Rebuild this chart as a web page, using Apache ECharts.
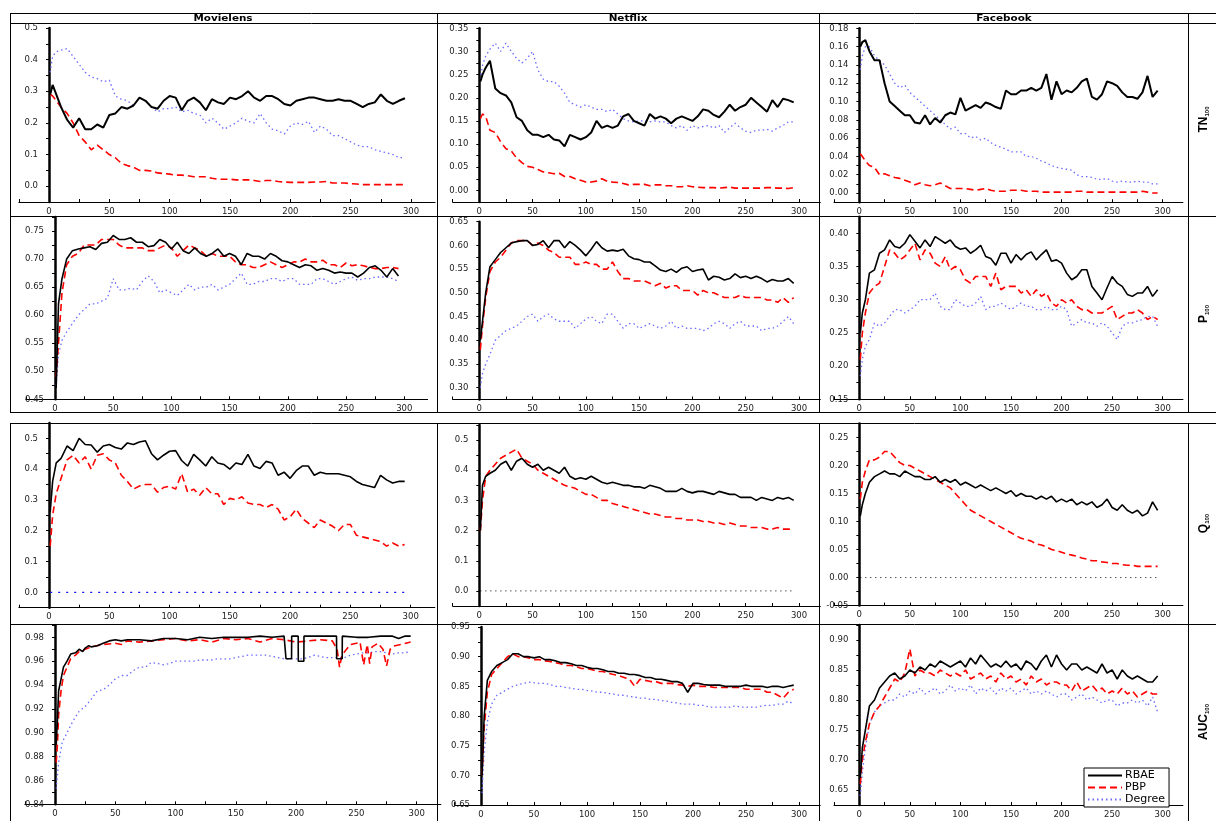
<!DOCTYPE html>
<html><head><meta charset="utf-8">
<script src="https://cdn.jsdelivr.net/npm/echarts@6/dist/echarts.min.js"></script>
<style>html,body{margin:0;padding:0;background:#fff}#c{width:1216px;height:821px}</style>
</head><body><div id="c"></div>
<script>
// ---------------- DATA ----------------
const X = [1,3,6,10,15,20,25,30,35,40,45,50,55,60,65,70,75,80,85,90,95,100,105,110,115,120,125,130,135,140,145,150,155,160,165,170,175,180,185,190,195,200,205,210,215,220,225,230,235,240,245,250,255,260,265,270,275,280,285,290,295];
const datasetNames = ['Movielens','Netflix','Facebook'];
const metricNames = [['TN','100'],['P','100'],['Q','100'],['AUC','100']];
const seriesNames = ['RBAE','PBP','Degree'];

// TN100
const mlTnRbae = [0.29,0.32,0.29,0.25,
 0.21,0.185,0.215,0.18,0.18,0.195,0.185,0.225,0.23,0.25,
 0.245,0.255,0.28,0.27,0.25,0.245,0.27,0.285,0.28,0.24,
 0.27,0.28,0.265,0.24,0.275,0.265,0.26,0.28,0.275,0.285,
 0.30,0.28,0.27,0.285,0.285,0.275,0.26,0.255,0.27,0.275,
 0.28,0.28,0.275,0.27,0.27,0.275,0.27,0.27,0.26,0.25,
 0.26,0.265,0.29,0.27,0.26,0.27,0.278];
const mlTnPbp = [0.29,0.285,0.27,0.25,
 0.23,0.2,0.16,0.14,0.115,0.13,0.115,0.1,0.09,0.072,
 0.065,0.06,0.05,0.05,0.048,0.042,0.04,0.038,0.035,0.035,
 0.033,0.03,0.03,0.03,0.025,0.022,0.022,0.022,0.02,0.02,
 0.02,0.018,0.015,0.018,0.018,0.015,0.013,0.012,0.012,0.012,
 0.012,0.013,0.013,0.015,0.01,0.01,0.01,0.008,0.007,0.005,
 0.005,0.005,0.005,0.005,0.005,0.005,0.005];
const mlTnDeg = [0.36,0.41,0.425,0.43,
 0.435,0.41,0.385,0.36,0.345,0.34,0.33,0.335,0.285,0.275,
 0.27,0.255,0.28,0.27,0.25,0.235,0.245,0.245,0.25,0.235,
 0.24,0.23,0.225,0.2,0.215,0.2,0.18,0.19,0.2,0.215,
 0.205,0.2,0.23,0.2,0.18,0.175,0.165,0.19,0.2,0.195,
 0.205,0.17,0.19,0.18,0.16,0.16,0.15,0.14,0.13,0.125,
 0.125,0.115,0.11,0.105,0.1,0.09,0.09];
const nfTnRbae = [0.235,0.25,0.265,0.28,
 0.22,0.21,0.205,0.19,0.158,0.15,0.13,0.12,0.12,0.115,
 0.12,0.11,0.108,0.095,0.12,0.115,0.11,0.115,0.125,0.15,
 0.135,0.14,0.135,0.14,0.16,0.165,0.15,0.145,0.14,0.165,
 0.155,0.16,0.155,0.145,0.155,0.16,0.155,0.15,0.16,0.175,
 0.172,0.163,0.158,0.17,0.185,0.172,0.18,0.185,0.2,0.19,
 0.18,0.17,0.195,0.18,0.198,0.195,0.19];
const nfTnPbp = [0.155,0.165,0.16,0.13,
 0.125,0.105,0.09,0.085,0.07,0.06,0.052,0.05,0.045,0.04,
 0.038,0.036,0.037,0.03,0.03,0.025,0.022,0.018,0.018,0.02,
 0.025,0.02,0.018,0.017,0.015,0.012,0.013,0.013,0.013,0.01,
 0.012,0.012,0.01,0.01,0.008,0.008,0.01,0.008,0.007,0.006,
 0.006,0.006,0.005,0.006,0.007,0.005,0.005,0.005,0.005,0.005,
 0.005,0.006,0.006,0.005,0.005,0.004,0.006];
const nfTnDeg = [0.24,0.27,0.29,0.305,
 0.318,0.3,0.318,0.3,0.285,0.275,0.285,0.3,0.26,0.24,
 0.235,0.235,0.225,0.21,0.19,0.185,0.18,0.185,0.18,0.175,
 0.175,0.17,0.175,0.165,0.155,0.15,0.148,0.15,0.15,0.148,
 0.15,0.148,0.148,0.14,0.135,0.14,0.13,0.14,0.135,0.138,
 0.14,0.135,0.14,0.125,0.135,0.145,0.135,0.128,0.125,0.13,
 0.13,0.132,0.128,0.135,0.14,0.148,0.148];
const fbTnRbae = [0.16,0.165,0.167,0.155,
 0.145,0.145,0.12,0.1,0.095,0.09,0.085,0.085,0.077,0.076,
 0.085,0.075,0.082,0.077,0.085,0.088,0.086,0.104,0.09,0.093,
 0.096,0.093,0.099,0.097,0.094,0.092,0.112,0.108,0.108,0.112,
 0.112,0.115,0.112,0.115,0.13,0.102,0.122,0.108,0.112,0.11,
 0.115,0.122,0.125,0.105,0.102,0.108,0.122,0.12,0.117,0.11,
 0.105,0.105,0.103,0.11,0.128,0.105,0.112];
const fbTnPbp = [0.043,0.04,0.035,0.03,
 0.028,0.02,0.021,0.019,0.017,0.016,0.014,0.012,0.009,0.011,
 0.009,0.008,0.009,0.011,0.008,0.005,0.005,0.005,0.005,0.004,
 0.003,0.004,0.005,0.003,0.002,0.002,0.002,0.003,0.003,0.003,
 0.002,0.002,0.002,0.001,0.001,0.001,0.001,0.001,0.001,0.001,
 0.002,0.002,0.001,0.001,0.001,0.001,0.001,0.001,0.001,0.001,
 0.001,0.001,0.001,0.002,0.001,0.0,0.0];
const fbTnDeg = [0.135,0.15,0.16,0.16,
 0.15,0.145,0.14,0.13,0.12,0.115,0.118,0.11,0.105,0.1,
 0.095,0.09,0.085,0.08,0.075,0.07,0.072,0.065,0.065,0.06,
 0.062,0.058,0.06,0.055,0.052,0.05,0.048,0.045,0.045,0.045,
 0.04,0.04,0.038,0.035,0.033,0.03,0.028,0.027,0.026,0.025,
 0.02,0.018,0.018,0.017,0.015,0.015,0.016,0.013,0.012,0.013,
 0.012,0.012,0.013,0.012,0.012,0.01,0.01];

// P100
const mlPRbae = [0.47,0.62,0.665,0.70,
 0.715,0.718,0.72,0.722,0.717,0.728,0.73,0.742,0.735,0.735,
 0.738,0.73,0.73,0.722,0.724,0.735,0.73,0.718,0.73,0.715,
 0.71,0.72,0.71,0.705,0.71,0.718,0.705,0.71,0.705,0.69,
 0.71,0.705,0.705,0.7,0.71,0.705,0.697,0.695,0.69,0.685,
 0.69,0.688,0.68,0.683,0.68,0.675,0.677,0.675,0.675,0.668,
 0.675,0.685,0.688,0.68,0.668,0.683,0.67];
const mlPPbp = [0.49,0.55,0.64,0.69,
 0.705,0.71,0.725,0.725,0.725,0.735,0.735,0.735,0.725,0.72,
 0.72,0.72,0.72,0.715,0.715,0.72,0.725,0.72,0.705,0.715,
 0.725,0.72,0.715,0.705,0.71,0.705,0.705,0.705,0.695,0.69,
 0.69,0.685,0.685,0.69,0.695,0.69,0.685,0.69,0.695,0.695,
 0.70,0.695,0.695,0.698,0.69,0.69,0.685,0.693,0.688,0.69,
 0.688,0.685,0.683,0.683,0.685,0.685,0.683];
const mlPDeg = [0.475,0.53,0.555,0.57,
 0.585,0.6,0.61,0.62,0.62,0.625,0.63,0.665,0.645,0.645,
 0.648,0.645,0.66,0.67,0.66,0.64,0.645,0.64,0.635,0.645,
 0.655,0.645,0.65,0.65,0.655,0.645,0.65,0.655,0.665,0.675,
 0.655,0.655,0.66,0.66,0.665,0.665,0.66,0.665,0.665,0.655,
 0.655,0.655,0.665,0.665,0.66,0.655,0.66,0.665,0.668,0.662,
 0.665,0.665,0.668,0.668,0.668,0.665,0.66];
const nfPRbae = [0.40,0.44,0.50,0.555,
 0.57,0.585,0.595,0.605,0.608,0.61,0.61,0.60,0.602,0.61,
 0.595,0.61,0.61,0.595,0.608,0.60,0.59,0.578,0.592,0.608,
 0.595,0.588,0.59,0.588,0.592,0.578,0.572,0.57,0.565,0.565,
 0.557,0.548,0.545,0.55,0.543,0.552,0.555,0.545,0.548,0.55,
 0.527,0.535,0.533,0.527,0.53,0.54,0.532,0.535,0.53,0.535,
 0.53,0.523,0.528,0.525,0.525,0.53,0.52];
const nfPPbp = [0.38,0.43,0.49,0.545,
 0.565,0.575,0.59,0.605,0.61,0.61,0.61,0.60,0.605,0.60,
 0.59,0.585,0.575,0.575,0.575,0.56,0.56,0.565,0.56,0.56,
 0.55,0.55,0.565,0.545,0.53,0.53,0.525,0.525,0.525,0.52,
 0.515,0.52,0.51,0.515,0.515,0.505,0.505,0.505,0.495,0.505,
 0.5,0.5,0.495,0.49,0.49,0.49,0.495,0.49,0.49,0.49,
 0.49,0.485,0.485,0.48,0.49,0.48,0.49];
const nfPDeg = [0.30,0.33,0.35,0.37,
 0.40,0.41,0.42,0.425,0.43,0.44,0.45,0.455,0.44,0.45,
 0.455,0.445,0.44,0.44,0.44,0.425,0.435,0.445,0.45,0.44,
 0.435,0.455,0.455,0.44,0.425,0.435,0.435,0.425,0.43,0.435,
 0.43,0.425,0.43,0.44,0.425,0.43,0.425,0.425,0.425,0.42,
 0.425,0.435,0.44,0.435,0.425,0.435,0.44,0.43,0.43,0.43,
 0.42,0.425,0.425,0.43,0.44,0.45,0.435];
const fbPRbae = [0.25,0.28,0.30,0.34,
 0.345,0.37,0.375,0.39,0.38,0.378,0.385,0.398,0.388,0.378,
 0.39,0.38,0.395,0.39,0.385,0.39,0.38,0.376,0.378,0.37,
 0.375,0.382,0.365,0.362,0.352,0.37,0.37,0.355,0.368,0.36,
 0.368,0.372,0.36,0.368,0.375,0.358,0.36,0.355,0.34,0.33,
 0.335,0.345,0.345,0.32,0.31,0.30,0.318,0.335,0.325,0.32,
 0.308,0.305,0.31,0.31,0.32,0.305,0.315];
const fbPPbp = [0.21,0.25,0.28,0.31,
 0.32,0.325,0.35,0.375,0.37,0.36,0.365,0.375,0.385,0.36,
 0.375,0.37,0.355,0.35,0.365,0.345,0.35,0.345,0.33,0.325,
 0.335,0.335,0.335,0.32,0.34,0.315,0.32,0.32,0.32,0.31,
 0.315,0.305,0.315,0.305,0.31,0.295,0.29,0.3,0.295,0.30,
 0.29,0.285,0.285,0.28,0.28,0.28,0.285,0.29,0.27,0.275,
 0.28,0.28,0.285,0.28,0.27,0.275,0.27];
const fbPDeg = [0.185,0.21,0.23,0.24,
 0.265,0.26,0.265,0.275,0.285,0.285,0.28,0.285,0.29,0.30,
 0.30,0.30,0.31,0.29,0.285,0.285,0.30,0.295,0.29,0.29,
 0.295,0.305,0.285,0.29,0.29,0.295,0.29,0.285,0.29,0.295,
 0.29,0.29,0.285,0.285,0.29,0.285,0.285,0.29,0.285,0.26,
 0.265,0.27,0.265,0.265,0.26,0.265,0.26,0.25,0.24,0.26,
 0.265,0.265,0.268,0.27,0.275,0.275,0.26];

// Q100
const mlQRbae = [0.26,0.36,0.42,0.435,
 0.475,0.46,0.50,0.48,0.478,0.455,0.475,0.48,0.47,0.465,
 0.485,0.48,0.488,0.492,0.45,0.43,0.445,0.458,0.46,0.428,
 0.41,0.448,0.43,0.41,0.44,0.42,0.415,0.40,0.42,0.415,
 0.448,0.41,0.402,0.425,0.42,0.38,0.39,0.37,0.395,0.41,
 0.41,0.38,0.39,0.385,0.385,0.385,0.38,0.375,0.36,0.35,
 0.345,0.34,0.38,0.365,0.355,0.36,0.36];
const mlQPbp = [0.15,0.25,0.32,0.37,
 0.43,0.445,0.42,0.44,0.40,0.445,0.45,0.43,0.42,0.38,
 0.36,0.335,0.345,0.35,0.35,0.325,0.34,0.345,0.335,0.385,
 0.325,0.335,0.315,0.34,0.32,0.32,0.285,0.305,0.30,0.31,
 0.29,0.285,0.285,0.275,0.285,0.27,0.235,0.245,0.27,0.24,
 0.225,0.21,0.235,0.225,0.215,0.20,0.22,0.22,0.185,0.18,
 0.175,0.17,0.165,0.15,0.16,0.15,0.155];
const qDegX = [1,295];
const mlQDeg = [0,0];
const nfQRbae = [0.20,0.35,0.38,0.39,
 0.40,0.42,0.43,0.40,0.43,0.44,0.42,0.41,0.42,0.40,
 0.41,0.40,0.39,0.41,0.38,0.37,0.375,0.37,0.38,0.37,
 0.36,0.355,0.36,0.355,0.35,0.35,0.345,0.345,0.34,0.35,
 0.345,0.34,0.33,0.33,0.33,0.34,0.33,0.325,0.33,0.33,
 0.325,0.32,0.33,0.325,0.32,0.32,0.31,0.31,0.31,0.30,
 0.31,0.305,0.30,0.31,0.305,0.31,0.30];
const nfQPbp = [0.20,0.30,0.38,0.40,
 0.42,0.44,0.45,0.46,0.47,0.44,0.43,0.42,0.40,0.39,
 0.38,0.37,0.36,0.35,0.345,0.34,0.33,0.32,0.32,0.31,
 0.30,0.30,0.29,0.285,0.28,0.275,0.27,0.265,0.26,0.255,
 0.255,0.25,0.245,0.245,0.24,0.24,0.235,0.235,0.235,0.23,
 0.23,0.225,0.225,0.22,0.225,0.22,0.215,0.215,0.21,0.21,
 0.21,0.205,0.205,0.21,0.205,0.205,0.205];
const nfQDeg = [0,0];
const fbQRbae = [0.11,0.13,0.15,0.17,
 0.18,0.185,0.19,0.185,0.185,0.18,0.19,0.185,0.18,0.18,
 0.175,0.175,0.18,0.17,0.175,0.17,0.175,0.165,0.17,0.165,
 0.16,0.165,0.16,0.155,0.16,0.155,0.15,0.155,0.145,0.15,
 0.145,0.145,0.14,0.145,0.14,0.145,0.135,0.14,0.135,0.14,
 0.13,0.135,0.13,0.135,0.125,0.13,0.14,0.125,0.12,0.13,
 0.12,0.115,0.12,0.11,0.115,0.135,0.12];
const fbQPbp = [0.14,0.17,0.19,0.21,
 0.21,0.215,0.225,0.225,0.215,0.205,0.20,0.20,0.195,0.19,
 0.185,0.18,0.175,0.17,0.165,0.16,0.15,0.14,0.13,0.12,
 0.115,0.11,0.105,0.10,0.095,0.09,0.085,0.08,0.075,0.07,
 0.068,0.065,0.06,0.058,0.055,0.05,0.048,0.045,0.042,0.04,
 0.038,0.035,0.033,0.03,0.03,0.028,0.027,0.025,0.025,0.023,
 0.022,0.022,0.02,0.02,0.02,0.02,0.02];
const fbQDeg = [0,0];

// AUC100
const mlAucRbaeX = [1,2,3,5,7,10,13,17,20,23,25,28,30,35,40,45,50,55,60,70,80,90,100,110,120,130,140,150,160,170,180,190,191.5,191.6,196.2,196.3,201.7,201.8,206.4,206.5,220,233.5,233.6,238.2,238.3,250,260,270,280,285,290,295];
const mlAucRbae = [0.89,0.91,0.935,0.945,0.955,0.96,0.966,0.967,0.97,0.968,0.971,0.973,0.972,0.973,0.975,0.977,0.978,0.977,0.978,0.978,0.977,0.979,0.979,0.978,0.98,0.979,0.98,0.98,0.98,0.981,0.98,0.981,0.981,0.962,0.962,0.981,0.981,0.960,0.960,0.981,0.981,0.981,0.962,0.962,0.981,0.98,0.98,0.981,0.981,0.979,0.981,0.981];
const mlAucPbpX = [1,2,3,5,7,10,13,17,20,25,30,40,50,55,60,70,80,90,100,110,120,130,140,150,160,170,180,190,200,210,220,230,234,236,238,245,250,253,256,259,261,263,268,272,275,278,282,287,291,295];
const mlAucPbp = [0.875,0.89,0.915,0.935,0.948,0.955,0.962,0.965,0.968,0.97,0.972,0.974,0.975,0.974,0.977,0.976,0.977,0.978,0.979,0.977,0.978,0.976,0.979,0.978,0.979,0.976,0.979,0.978,0.976,0.977,0.978,0.977,0.97,0.955,0.965,0.974,0.975,0.976,0.957,0.974,0.958,0.972,0.975,0.97,0.956,0.97,0.973,0.974,0.975,0.976];
const mlAucDeg = [0.853,0.875,0.892,0.90,
 0.91,0.918,0.922,0.928,0.935,0.936,0.94,0.945,0.948,0.948,
 0.952,0.955,0.955,0.959,0.958,0.957,0.958,0.96,0.96,0.96,
 0.96,0.961,0.961,0.961,0.962,0.962,0.962,0.963,0.964,0.965,
 0.965,0.965,0.965,0.964,0.963,0.962,0.962,0.962,0.962,0.963,
 0.965,0.964,0.963,0.963,0.963,0.963,0.965,0.966,0.967,0.967,
 0.968,0.968,0.967,0.966,0.967,0.967,0.968];
const nfAucRbae = [0.70,0.80,0.86,0.875,
 0.885,0.89,0.895,0.905,0.905,0.9,0.9,0.898,0.9,0.895,
 0.895,0.893,0.89,0.89,0.888,0.885,0.885,0.882,0.88,0.88,
 0.878,0.875,0.875,0.872,0.872,0.87,0.87,0.868,0.865,0.865,
 0.862,0.862,0.86,0.858,0.858,0.855,0.84,0.855,0.855,0.853,
 0.852,0.852,0.852,0.85,0.85,0.85,0.85,0.852,0.85,0.85,
 0.85,0.848,0.85,0.85,0.848,0.85,0.852];
const nfAucPbp = [0.70,0.78,0.84,0.87,
 0.88,0.89,0.9,0.905,0.9,0.9,0.898,0.895,0.895,0.893,
 0.892,0.89,0.888,0.885,0.885,0.883,0.88,0.88,0.878,0.875,
 0.875,0.872,0.87,0.868,0.865,0.862,0.85,0.862,0.86,0.858,
 0.858,0.855,0.855,0.855,0.853,0.852,0.85,0.852,0.85,0.85,
 0.85,0.848,0.848,0.848,0.848,0.848,0.848,0.845,0.845,0.845,
 0.845,0.84,0.84,0.835,0.83,0.84,0.845];
const nfAucDeg = [0.67,0.74,0.79,0.82,
 0.835,0.84,0.845,0.85,0.853,0.855,0.857,0.856,0.855,0.855,
 0.853,0.85,0.85,0.848,0.847,0.845,0.845,0.843,0.842,0.84,
 0.84,0.838,0.837,0.835,0.835,0.833,0.832,0.83,0.83,0.828,
 0.828,0.826,0.825,0.823,0.822,0.82,0.82,0.82,0.818,0.818,
 0.815,0.815,0.815,0.815,0.815,0.817,0.815,0.815,0.815,0.815,
 0.817,0.818,0.818,0.82,0.82,0.825,0.82];
const fbAucRbae = [0.67,0.72,0.75,0.79,
 0.80,0.82,0.83,0.84,0.845,0.835,0.84,0.85,0.845,0.855,
 0.85,0.86,0.855,0.865,0.86,0.855,0.86,0.865,0.855,0.87,
 0.86,0.875,0.865,0.855,0.86,0.855,0.865,0.855,0.86,0.85,
 0.865,0.86,0.85,0.865,0.875,0.855,0.875,0.86,0.85,0.86,
 0.86,0.85,0.855,0.85,0.845,0.86,0.845,0.85,0.835,0.85,
 0.84,0.835,0.84,0.835,0.83,0.83,0.84];
const fbAucPbp = [0.66,0.70,0.73,0.76,
 0.78,0.79,0.805,0.82,0.835,0.83,0.845,0.885,0.84,0.85,
 0.845,0.845,0.84,0.85,0.845,0.84,0.845,0.84,0.85,0.835,
 0.84,0.845,0.835,0.84,0.83,0.845,0.835,0.84,0.83,0.835,
 0.825,0.84,0.83,0.835,0.825,0.83,0.83,0.825,0.825,0.815,
 0.83,0.815,0.82,0.825,0.815,0.82,0.81,0.815,0.81,0.82,
 0.81,0.815,0.805,0.81,0.815,0.81,0.81];
const fbAucDeg = [0.64,0.68,0.72,0.76,
 0.78,0.79,0.795,0.80,0.80,0.81,0.805,0.815,0.81,0.82,
 0.81,0.815,0.82,0.81,0.815,0.825,0.815,0.82,0.815,0.825,
 0.81,0.82,0.815,0.82,0.81,0.82,0.815,0.82,0.81,0.815,
 0.82,0.81,0.815,0.81,0.815,0.81,0.805,0.81,0.81,0.80,
 0.805,0.81,0.80,0.805,0.80,0.795,0.80,0.80,0.79,0.795,
 0.795,0.80,0.795,0.80,0.79,0.805,0.78];

// ---------------- LAYOUT ----------------
const panels = [
 {x0:49, x300:411, top:28, bot:202, min:-0.05, max:0.5, iv:0.05, step:0.1, dec:1, lines:[[X,mlTnRbae],[X,mlTnPbp],[X,mlTnDeg]], bw:2},
 {x0:479.3, x300:799, top:28.3, bot:202, min:-0.025, max:0.35, iv:0.025, step:0.05, dec:2, lines:[[X,nfTnRbae],[X,nfTnPbp],[X,nfTnDeg]], bw:2},
 {x0:859.3, x300:1162.7, top:28.3, bot:202.2, min:-0.01, max:0.18, iv:0.01, step:0.02, dec:2, lines:[[X,fbTnRbae],[X,fbTnPbp],[X,fbTnDeg]], bw:2},
 {x0:55, x300:404.3, top:217, bot:399.3, min:0.45, max:0.775, iv:0.025, step:0.05, dec:2, lines:[[X,mlPRbae],[X,mlPPbp],[X,mlPDeg]]},
 {x0:479.3, x300:799, top:221.7, bot:399.5, min:0.275, max:0.65, iv:0.025, step:0.05, dec:2, lines:[[X,nfPRbae],[X,nfPPbp],[X,nfPDeg]]},
 {x0:859.3, x300:1162.7, top:216.7, bot:399.3, min:0.15, max:0.425, iv:0.025, step:0.05, dec:2, lines:[[X,fbPRbae],[X,fbPPbp],[X,fbPDeg]]},
 {x0:49, x300:410.7, top:422.9, bot:607.7, min:-0.05, max:0.55, iv:0.05, step:0.1, dec:1, lines:[[X,mlQRbae],[X,mlQPbp],[qDegX,mlQDeg]], degStyle:{color:'#1010ee', width:1.3, type:[2,6]}},
 {x0:479.3, x300:799, top:425, bot:606, min:-0.05, max:0.55, iv:0.05, step:0.1, dec:1, lines:[[X,nfQRbae],[X,nfQPbp],[qDegX,nfQDeg]], degStyle:{color:'#000', width:1, type:[1,4]}},
 {x0:859.3, x300:1162.7, top:423.4, bot:605.6, min:-0.05, max:0.275, iv:0.025, step:0.05, dec:2, lines:[[X,fbQRbae],[X,fbQPbp],[qDegX,fbQDeg]], degStyle:{color:'#000', width:1, type:[1,4]}},
 {x0:55, x300:416.7, top:625.4, bot:804.3, min:0.84, max:0.99, iv:0.01, step:0.02, dec:2, lines:[[mlAucRbaeX,mlAucRbae],[mlAucPbpX,mlAucPbp],[X,mlAucDeg]]},
 {x0:481, x300:799, top:627, bot:805, min:0.65, max:0.95, iv:0.025, step:0.05, dec:2, lines:[[X,nfAucRbae],[X,nfAucPbp],[X,nfAucDeg]]},
 {x0:859.3, x300:1162.7, top:625, bot:805, min:0.625, max:0.925, iv:0.025, step:0.05, dec:2, lines:[[X,fbAucRbae],[X,fbAucPbp],[X,fbAucDeg]]}
];

const STY = {
  RBAE: {color:'#000000', width:1.6, type:'solid'},
  PBP: {color:'#ff0000', width:1.6, type:[7,4]},
  Degree: {color:'#6a6aff', width:1.3, type:[1.5,3]}
};
const FONT = 'DejaVu Sans';
function zip(xs, ys){ return ys.map((y,i)=>[xs[i], y]); }
function isMult(v, s){ const r = v/s; return Math.abs(r - Math.round(r)) < 1e-6; }

const grid=[], xAxis=[], yAxis=[], series=[];
panels.forEach((p,i)=>{
  const s = (p.x300 - p.x0)/300;
  const padL = 25*s;
  grid.push({left: p.x0 - padL, top: p.top, width: 345*s, height: p.bot - p.top, containLabel:false, outerBoundsMode:'none'});
  xAxis.push({type:'value', gridIndex:i, min:-25, max:320, interval:25,
    axisLine:{onZero:false, lineStyle:{color:'#000', width:1}},
    axisTick:{inside:true, length:3, lineStyle:{color:'#000', width:1}},
    axisLabel:{formatter:v => (v>=0 && v%50===0) ? String(v) : '', fontFamily:FONT, fontSize:8.5, color:'#222', margin:5, showMaxLabel:false, hideOverlap:false},
    splitLine:{show:false}});
  yAxis.push({type:'value', gridIndex:i, min:p.min, max:p.max, interval:p.iv, position:'left', offset:-padL,
    axisLine:{onZero:false, lineStyle:{color:'#000', width:2.5}},
    axisTick:{length:3, lineStyle:{color:'#000', width:1}},
    axisLabel:{formatter:v => isMult(v,p.step) ? v.toFixed(p.dec) : '', fontFamily:FONT, fontSize:8.5, color:'#222', margin:11, hideOverlap:false},
    splitLine:{show:false}});
  p.lines.forEach((ln,k)=>{
    const name = seriesNames[k];
    let st = Object.assign({}, STY[name]);
    if (k===0 && p.bw) st.width = p.bw;
    if (k===2 && p.degStyle) st = Object.assign({}, p.degStyle);
    series.push({type:'line', name, xAxisIndex:i, yAxisIndex:i, data:zip(ln[0], ln[1]),
      symbol:'none', showSymbol:false, lineStyle:st, itemStyle:{color:st.color}, silent:true, z:3-k});
  });
});

// table frame lines
const W = 1216;
const hLines = [13, 23, 216, 412, 423, 624];
const vCols = [10, 437, 819, 1188];
const graphic = [];
hLines.forEach(y=>graphic.push({type:'line', shape:{x1:10, y1:y+0.5, x2:W, y2:y+0.5}, style:{stroke:'#000', lineWidth:1}, silent:true}));
vCols.forEach(x=>{
  graphic.push({type:'line', shape:{x1:x+0.5, y1:13, x2:x+0.5, y2:412}, style:{stroke:'#000', lineWidth:1}, silent:true});
  graphic.push({type:'line', shape:{x1:x+0.5, y1:423, x2:x+0.5, y2:821}, style:{stroke:'#000', lineWidth:1}, silent:true});
});
const headerX = [223, 628, 1004];
datasetNames.forEach((t,i)=>graphic.push({type:'text', x:headerX[i], y:18.5, scaleX:1.3, silent:true,
  style:{text:t, fontFamily:FONT, fontWeight:'bold', fontSize:8, fill:'#000', textAlign:'center', textVerticalAlign:'middle'}}));
const rowY = [119.5, 314, 523.5, 722];
metricNames.forEach((m,i)=>graphic.push({type:'text', x:1204, y:rowY[i], rotation:Math.PI/2, silent:true,
  style:{text:'{a|'+m[0]+'}{b|'+m[1]+'}', textAlign:'center', textVerticalAlign:'middle',
    rich:{a:{fontFamily:'Liberation Sans', fontWeight:'bold', fontSize:12, fill:'#000'},
          b:{fontFamily:'Liberation Sans', fontWeight:'bold', fontSize:6, fill:'#000', verticalAlign:'bottom', padding:[5,0,0,0]}}}}));

const chart = echarts.init(document.getElementById('c'), null, {renderer:'canvas'});
chart.setOption({
  animation:false,
  backgroundColor:'#fff',
  grid, xAxis, yAxis, series, graphic,
  legend:{data:seriesNames, orient:'vertical', left:1084, top:768, itemWidth:34, itemHeight:10, itemGap:1,
    padding:[2,4,2,3], borderColor:'#000', borderWidth:1, backgroundColor:'#fff', selectedMode:false,
    itemStyle:{opacity:0},
    textStyle:{fontFamily:FONT, fontSize:11, color:'#000', padding:[0,0,0,-2]}}
});
</script></body></html>
